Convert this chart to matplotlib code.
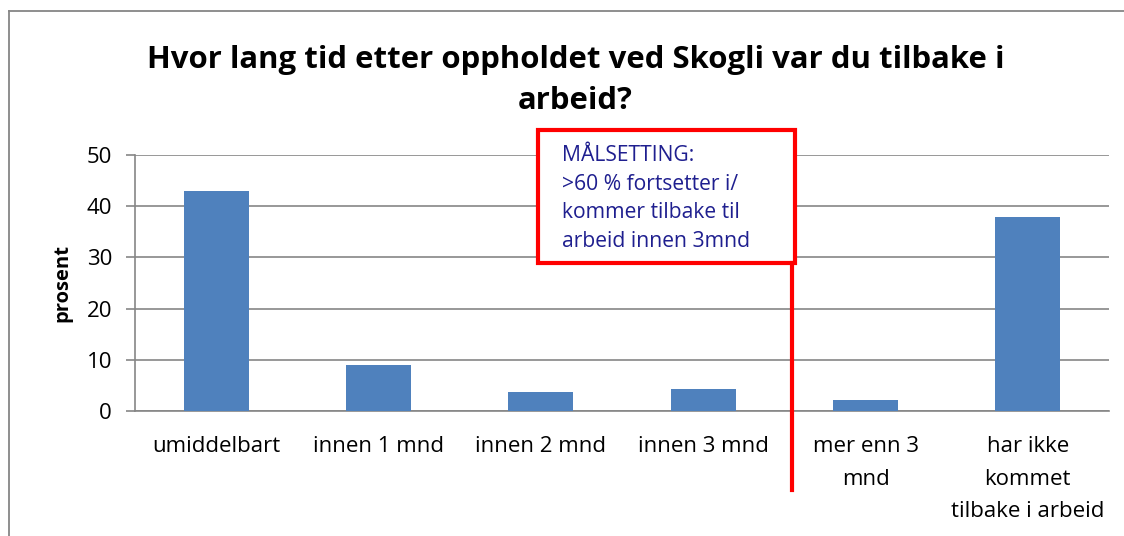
import matplotlib
matplotlib.use("Agg")
from matplotlib import pyplot as plt
from matplotlib.patches import Rectangle
from matplotlib.lines import Line2D
import matplotlib.transforms as mtransforms

# data
categories = ["umiddelbart", "innen 1 mnd", "innen 2 mnd", "innen 3 mnd",
              "mer enn 3\nmnd", "har ikke\nkommet\ntilbake i arbeid"]
prosent = [43.0, 9.0, 3.7, 4.3, 2.1, 37.8]
y_ticks = [0, 10, 20, 30, 40, 50]

title = "Hvor lang tid etter oppholdet ved Skogli var du tilbake i\narbeid?"
goal_text = "MÅLSETTING:\n>60 % fortsetter i/\nkommer tilbake til\narbeid innen 3mnd"
goal_split = 3.55  # between "innen 3 mnd" and "mer enn 3 mnd"

plt.rcParams['font.family'] = ['Open Sans', 'DejaVu Sans']

fig = plt.figure(figsize=(11.24, 5.36), dpi=100)
ax = fig.add_axes([0.120, 0.2332, 0.8667, 0.4776])

x = list(range(len(categories)))
ax.bar(x, prosent, width=0.4, color="#4F81BD", zorder=3)

ax.set_xlim(-0.5, len(categories) - 0.5)
ax.set_ylim(0, 50)
ax.set_yticks(y_ticks)
ax.set_xticks(x)
ax.set_xticklabels(categories, fontsize=16, linespacing=1.72, va="top")
ax.tick_params(axis="x", length=0, pad=18)
ax.tick_params(axis="y", length=6.5, width=1.2, color="#868686", labelsize=16, pad=10)
ax.grid(axis="y", color="#868686", linewidth=1.2, zorder=0)
for s in ["top", "right"]:
    ax.spines[s].set_visible(False)
for s in ["left", "bottom"]:
    ax.spines[s].set_color("#868686")
    ax.spines[s].set_linewidth(1.2)
ax.set_ylabel("prosent", fontsize=14.5, fontweight="bold", labelpad=10)

fig.text(0.512, 0.85, title, ha="center", va="center", fontsize=22.4,
         fontweight="bold", linespacing=1.5)

# goal box
box = Rectangle((0.4138, 0.578), 0.2638, 0.52, transform=ax.transAxes,
                fill=True, facecolor="white", edgecolor="#FF0000",
                linewidth=3, clip_on=False, zorder=5)
ax.add_patch(box)
ax.text(0.4385, 1.039, goal_text, transform=ax.transAxes, ha="left", va="top",
        fontsize=15.2, color="#1F1F8F", linespacing=1.47, zorder=6)

trans = mtransforms.blended_transform_factory(ax.transData, ax.transAxes)
ax.add_line(Line2D([goal_split, goal_split], [0.578, -0.309], transform=trans,
                   color="#FF0000", linewidth=3, clip_on=False, zorder=6))

# outer chart border (left and top)
fig.add_artist(Line2D([0.008, 0.008], [0.0, 0.979], transform=fig.transFigure,
                      color="#868686", linewidth=1.3))
fig.add_artist(Line2D([0.008, 1.0], [0.979, 0.979], transform=fig.transFigure,
                      color="#868686", linewidth=1.3))

fig.savefig("out.png", dpi=100)
